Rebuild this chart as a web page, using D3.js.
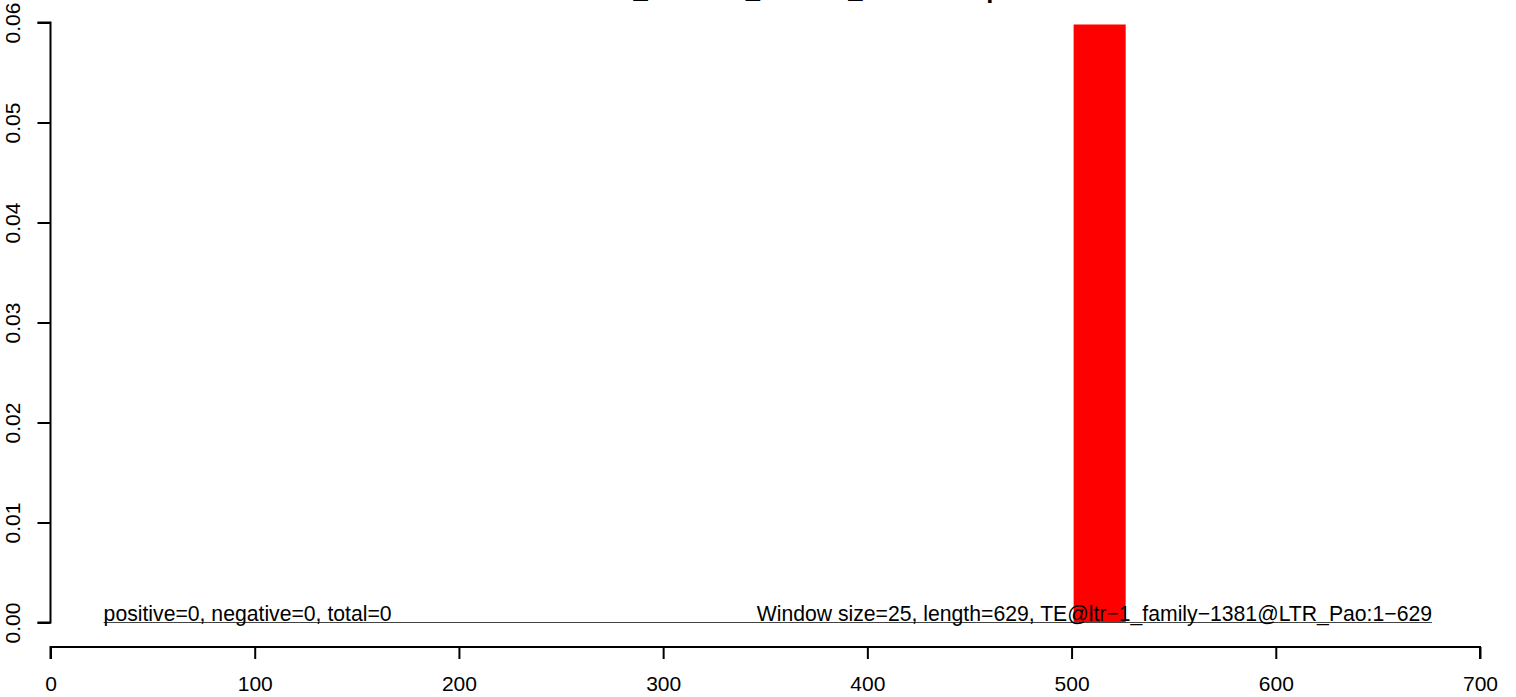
<!DOCTYPE html>
<html>
<head>
<meta charset="utf-8">
<script src="https://cdn.jsdelivr.net/npm/d3@7"></script>
<style>
  html, body { margin: 0; padding: 0; background: #fff; }
  svg { display: block; }
  text { font-family: "Liberation Sans", Arial, Helvetica, sans-serif; }
</style>
</head>
<body>
<script>
// ---- data ----
const titleText = "Flowerbud_sRNA21_AtTE10_TEcounts.pdf";
const barStarts = [501];
const barEnds = [526.5];
const barValues = [0.0598];
const xTicks = [0, 100, 200, 300, 400, 500, 600, 700];
const yTicks = [0, 0.01, 0.02, 0.03, 0.04, 0.05, 0.06];
const baselineRange = [26, 676.5];
const leftNote = "positive=0, negative=0, total=0";
const rightNote = "Window size=25, length=629, TE@ltr\u22121_family\u22121381@LTR_Pao:1\u2212629";

// ---- layout ----
const W = 1516, H = 697;
const svg = d3.select("body").append("svg").attr("width", W).attr("height", H);

const x = d3.scaleLinear().domain([0, 700]).range([50.5, 1480]);
const y = d3.scaleLinear().domain([0, 0.06]).range([622.5, 22.5]);

// title (mostly clipped off the top, as in the reference)
svg.append("text")
  .attr("x", 765).attr("y", -2)
  .attr("text-anchor", "middle")
  .attr("font-size", 25.6).attr("font-weight", "bold")
  .attr("fill", "#000")
  .text(titleText);

// bars
svg.selectAll("rect.bar").data(barValues).enter().append("rect")
  .attr("class", "bar")
  .attr("x", (d, i) => x(barStarts[i]))
  .attr("width", (d, i) => x(barEnds[i]) - x(barStarts[i]))
  .attr("y", d => y(d))
  .attr("height", d => y(0) - y(d))
  .attr("fill", "#ff0000");

// baseline segment
svg.append("line")
  .attr("x1", x(baselineRange[0])).attr("x2", x(baselineRange[1]))
  .attr("y1", y(0)).attr("y2", y(0))
  .attr("stroke", "#444").attr("stroke-width", 1);

// notes
svg.append("text")
  .attr("x", x(baselineRange[0])).attr("y", y(0) - 1.5)
  .attr("font-size", 21.2).attr("fill", "#000")
  .text(leftNote);
svg.append("text")
  .attr("x", x(baselineRange[1])).attr("y", y(0) - 1.5)
  .attr("text-anchor", "end")
  .attr("font-size", 21.2).attr("fill", "#000")
  .text(rightNote);

// x axis
const xAxis = d3.axisBottom(x).tickValues(xTicks).tickSize(12).tickPadding(17).tickFormat(d3.format("d"));
const gx = svg.append("g").attr("transform", "translate(0,647)").call(xAxis);
gx.select(".domain").attr("stroke", "#000").attr("stroke-width", 2)
  .attr("d", `M${x(0)},12V0H${x(700)}V12`);
gx.selectAll(".tick line").attr("stroke", "#000").attr("stroke-width", 2);
gx.selectAll(".tick text").attr("font-size", 21).attr("fill", "#000")
  .attr("font-family", "Liberation Sans, Arial, sans-serif");

// y axis
const yAxis = d3.axisLeft(y).tickValues(yTicks).tickSize(13).tickPadding(0).tickFormat(d3.format(".2f"));
const gy = svg.append("g").attr("transform", "translate(50.5,0)").call(yAxis);
gy.select(".domain").attr("stroke", "#000").attr("stroke-width", 2)
  .attr("d", `M-13,${y(0)}H0V${y(0.06)}H-13`);
gy.selectAll(".tick line").attr("stroke", "#000").attr("stroke-width", 2);
gy.selectAll(".tick text")
  .attr("font-size", 21).attr("fill", "#000")
  .attr("font-family", "Liberation Sans, Arial, sans-serif")
  .attr("text-anchor", "middle")
  .attr("dy", null)
  .attr("x", null)
  .attr("transform", "translate(-31,0) rotate(-90)")
  .attr("y", 0);
</script>
</body>
</html>
